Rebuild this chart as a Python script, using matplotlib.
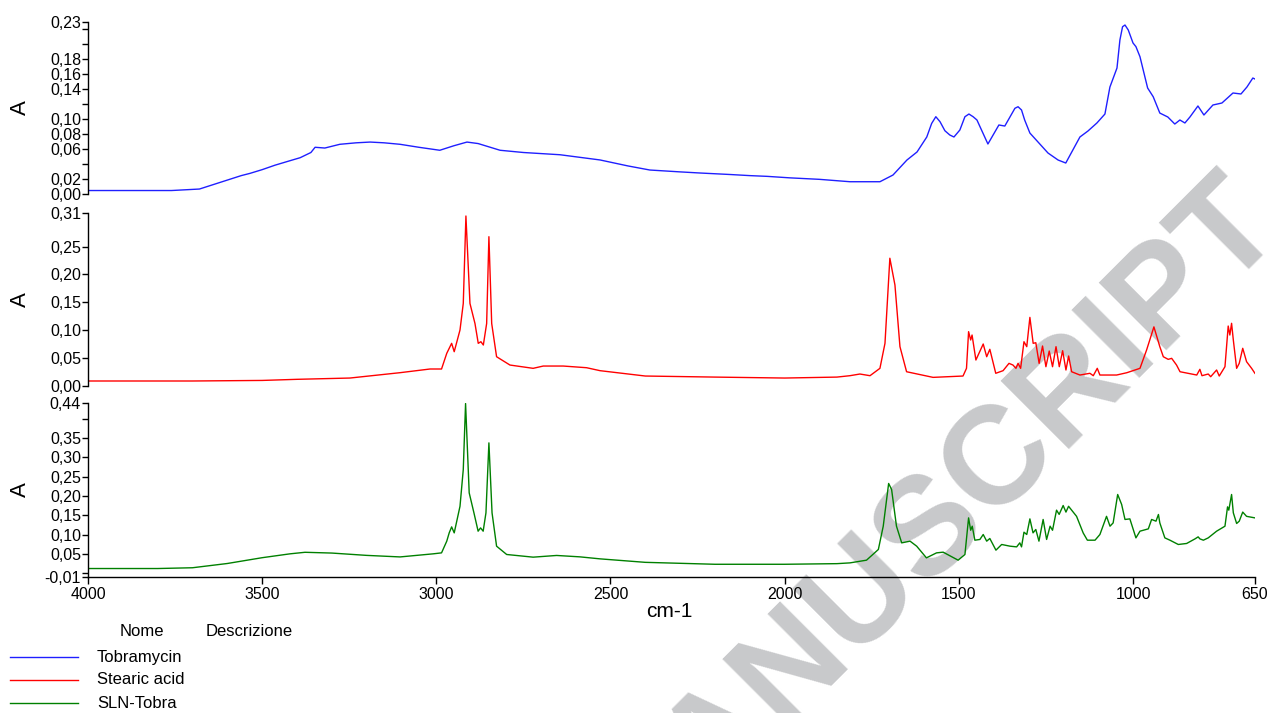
import matplotlib
matplotlib.use("Agg")
from matplotlib import pyplot as plt
from matplotlib.lines import Line2D

plt.rcParams['font.family'] = ['Liberation Sans', 'DejaVu Sans']

# Tobramycin spectrum (cm-1, absorbance)
tobra_wn = [4000, 3850, 3760, 3720, 3680, 3620, 3560, 3535, 3500, 3463, 3420, 3391, 3360, 3348,
	3320, 3277, 3230, 3190, 3150, 3104, 3050, 2990, 2950, 2912, 2880, 2817, 2750, 2645, 2530,
	2450, 2387, 2300, 2243, 2157, 2100, 2050, 1985, 1900, 1812.6, 1726.5, 1689, 1649, 1620, 1592,
	1578, 1566, 1554, 1540, 1526, 1514, 1497, 1482.5, 1471, 1459, 1448, 1416.5, 1385, 1368, 1339, 1330,
	1320, 1311, 1296, 1244, 1215, 1193, 1152.4, 1129.4, 1103.6, 1080.6, 1066.3, 1046, 1037.6, 1030,
	1023, 1013.6, 1000, 991.6, 980, 966, 958, 942, 923, 900, 880, 865.4, 851, 836.6,
	813.6, 796.4, 770.6, 744.7, 713, 690, 673, 656, 650]
tobra_a = [0.004, 0.004, 0.004, 0.005, 0.006, 0.015, 0.024, 0.027, 0.032, 0.038, 0.044, 0.048, 0.055, 0.062,
	0.061, 0.066, 0.068, 0.069, 0.068, 0.066, 0.062, 0.058, 0.064, 0.069, 0.067, 0.058, 0.055, 0.052, 0.045,
	0.037, 0.0315, 0.029, 0.0275, 0.0255, 0.024, 0.023, 0.021, 0.019, 0.0158, 0.0158, 0.0248, 0.0449, 0.0557, 0.0758,
	0.094, 0.103, 0.0963, 0.0842, 0.0785, 0.0758, 0.0852, 0.103, 0.1066, 0.103, 0.0986, 0.0664, 0.0919, 0.0905, 0.1143, 0.1164,
	0.112, 0.0986, 0.0811, 0.0543, 0.0449, 0.0409, 0.0758, 0.0838, 0.0946, 0.1066, 0.1428, 0.1683, 0.2059, 0.2237,
	0.226, 0.2193, 0.2019, 0.197, 0.1835, 0.1567, 0.1415, 0.1298, 0.1079, 0.1026, 0.0932, 0.0986, 0.0946, 0.1026,
	0.1174, 0.1053, 0.1187, 0.1214, 0.1348, 0.1335, 0.1428, 0.1549, 0.1536]

# Stearic acid spectrum
stearic_wn = [4000, 3700, 3500, 3400, 3248, 3104, 3018, 2985, 2970, 2956, 2948.6, 2932, 2922.6, 2915,
	2903.4, 2889, 2879.6, 2872, 2865, 2855.5, 2849, 2841, 2827, 2788.6, 2722, 2693, 2635.6, 2568.6, 2530,
	2400, 2200, 2000, 1850, 1812.6, 1784, 1755, 1726.5, 1712, 1698, 1683.4, 1669, 1650, 1574, 1488,
	1478, 1472, 1466, 1462, 1451, 1430, 1420, 1411, 1394, 1373, 1356, 1344.6, 1336, 1330, 1322.6,
	1313, 1305, 1296, 1286.6, 1279, 1269.5, 1259.7, 1250, 1240.5, 1231, 1221, 1211.6, 1202, 1192.5,
	1184.8, 1176.2, 1152.4, 1123.7, 1114, 1102.6, 1095, 1047, 1018, 980, 961, 940, 923, 913, 899,
	889, 875, 865, 817, 808, 802, 784, 777, 760, 752.4, 736, 726.7, 722, 717, 712, 702.5, 695,
	685, 674, 659.5, 650]
stearic_a = [0.009, 0.009, 0.010, 0.012, 0.0143, 0.0239, 0.0305, 0.0305, 0.0586, 0.0765, 0.0615, 0.1004, 0.148, 0.3047,
	0.148, 0.112, 0.0765, 0.0794, 0.0735, 0.112, 0.2676, 0.112, 0.0525, 0.0376, 0.0317, 0.0358, 0.0358, 0.0328, 0.0275,
	0.0179, 0.016, 0.0143, 0.016, 0.0185, 0.0215, 0.0185, 0.0317, 0.0765, 0.229, 0.181, 0.0705, 0.0256, 0.0155, 0.0179,
	0.0317, 0.0974, 0.0825, 0.0914, 0.0466, 0.0753, 0.0525, 0.0658, 0.0228, 0.0275, 0.0406, 0.0376, 0.0317, 0.0406, 0.0317,
	0.0794, 0.0705, 0.123, 0.0765, 0.0776, 0.0406, 0.0717, 0.0346, 0.0627, 0.0346, 0.0705, 0.0346, 0.0633, 0.0287,
	0.0538, 0.0256, 0.0197, 0.0228, 0.0185, 0.0317, 0.0197, 0.0197, 0.0238, 0.0317, 0.0645, 0.106, 0.0705, 0.0525, 0.0478,
	0.0496, 0.0376, 0.0256, 0.0197, 0.0299, 0.0185, 0.0215, 0.0167, 0.0287, 0.0179, 0.0346, 0.1075, 0.0914, 0.1124, 0.0824, 0.0317, 0.0407,
	0.0676, 0.0436, 0.0317, 0.0228]

# SLN-Tobra spectrum
sln_wn = [4000, 3800, 3700, 3600, 3500, 3420, 3377, 3300, 3200, 3104, 3009, 2985, 2970, 2963, 2956,
	2948.6, 2932, 2922.6, 2916, 2905.6, 2892, 2880, 2873, 2865.5, 2857.5, 2849, 2840, 2827, 2798, 2722,
	2654.6, 2588, 2530, 2400, 2200, 2000, 1850, 1812.6, 1765, 1731, 1717, 1701.5, 1693, 1679, 1664,
	1640, 1621, 1593, 1564, 1545, 1502, 1482.5, 1472, 1466, 1461.5, 1454, 1439.5, 1430, 1420, 1411,
	1393.5, 1377, 1353, 1334, 1325, 1320, 1313, 1305, 1296, 1287, 1279, 1270, 1258, 1248, 1238, 1231,
	1219.5, 1212, 1200.5, 1192.5, 1185, 1162, 1143, 1131, 1109, 1095, 1076, 1066, 1057, 1044, 1032.6,
	1023, 1009, 991.6, 980, 956, 946.6, 934, 927, 923, 908.6, 894, 870, 846, 822, 813, 808, 798,
	784, 760, 736, 728.6, 725, 717, 712, 702.5, 695, 685, 674, 650]
sln_a = [0.012, 0.012, 0.014, 0.025, 0.040, 0.050, 0.054, 0.052, 0.046, 0.042, 0.050, 0.0525, 0.0828, 0.1042, 0.1197,
	0.1042, 0.173, 0.268, 0.4388, 0.2077, 0.156, 0.1086, 0.1171, 0.1086, 0.156, 0.337, 0.156, 0.0698, 0.0483, 0.0414,
	0.0458, 0.0422, 0.037, 0.028, 0.023, 0.023, 0.0246, 0.0266, 0.0336, 0.0613, 0.1215, 0.232, 0.2165, 0.1215, 0.0784,
	0.0828, 0.0698, 0.0396, 0.0525, 0.0543, 0.0336, 0.0483, 0.143, 0.111, 0.1215, 0.0853, 0.0872, 0.100, 0.0828, 0.0897,
	0.0595, 0.0742, 0.0698, 0.068, 0.0784, 0.068, 0.106, 0.100, 0.1404, 0.1042, 0.113, 0.0828, 0.1389, 0.0872, 0.1215, 0.111,
	0.163, 0.152, 0.175, 0.158, 0.173, 0.147, 0.104, 0.0853, 0.0853, 0.100, 0.147, 0.1215, 0.130, 0.2035, 0.1777,
	0.1389, 0.1404, 0.0913, 0.1086, 0.1146, 0.1389, 0.1345, 0.1518, 0.130, 0.0913, 0.0853, 0.0742, 0.0768, 0.0887, 0.0939, 0.0887, 0.0853,
	0.0913, 0.1086, 0.1215, 0.1715, 0.163, 0.2035, 0.156, 0.1285, 0.1345, 0.158, 0.147, 0.143]

names = ["Tobramycin", "Stearic acid", "SLN-Tobra"]
colors = ["#1f1fff", "#ff0000", "#008000"]

x_ticks = [4000, 3500, 3000, 2500, 2000, 1500, 1000, 650]

top_ticks = [0.00, 0.02, 0.04, 0.06, 0.08, 0.10, 0.12, 0.14, 0.16, 0.18, 0.20, 0.22, 0.23]
top_labels = ["0,00", "0,02", "", "0,06", "0,08", "0,10", "", "0,14", "0,16", "0,18", "", "", "0,23"]
mid_ticks = [0.00, 0.05, 0.10, 0.15, 0.20, 0.25, 0.31]
mid_labels = ["0,00", "0,05", "0,10", "0,15", "0,20", "0,25", "0,31"]
bot_ticks = [-0.01, 0.00, 0.05, 0.10, 0.15, 0.20, 0.25, 0.30, 0.35, 0.40, 0.44]
bot_labels = ["-0,01", "", "0,05", "0,10", "0,15", "0,20", "0,25", "0,30", "0,35", "", "0,44"]

fig = plt.figure(figsize=(12.73, 7.13), dpi=100)

# panel boxes in figure fractions: left, bottom, width, height
boxes = [
	[0.0691, 0.7286, 0.9167, 0.2405],
	[0.0691, 0.4586, 0.9167, 0.2426],
	[0.0691, 0.1907, 0.9167, 0.2440],
]
series = [(tobra_wn, tobra_a), (stearic_wn, stearic_a), (sln_wn, sln_a)]
limits = [(0.0, 0.23), (0.0, 0.31), (-0.01, 0.44)]
yticks = [(top_ticks, top_labels), (mid_ticks, mid_labels), (bot_ticks, bot_labels)]

for i in range(3):
	ax = fig.add_axes(boxes[i])
	ax.patch.set_visible(False)
	wn, a = series[i]
	ax.plot(wn, a, color=colors[i], lw=1.0)
	ax.set_xlim(4000, 650)
	ax.set_ylim(*limits[i])
	for side in ["top", "right"]:
		ax.spines[side].set_visible(False)
	ax.spines["left"].set_linewidth(1.0)
	ax.set_yticks(yticks[i][0])
	ax.set_yticklabels(yticks[i][1])
	ax.tick_params(axis="y", direction="out", length=4, width=1, labelsize=11.5, pad=1)
	if i < 2:
		ax.spines["bottom"].set_visible(False)
		ax.set_xticks([])
	else:
		ax.spines["bottom"].set_linewidth(1.0)
		ax.set_xticks(x_ticks)
		ax.set_xticklabels([str(t) for t in x_ticks])
		ax.tick_params(axis="x", direction="out", length=5, width=1, labelsize=11.5, pad=2)
	# axis title "A", centred on each panel
	cy = boxes[i][1] + boxes[i][3] / 2
	fig.text(0.0157, cy, "A", rotation=90, ha="center", va="center", fontsize=16)

fig.text(0.5255, 0.1417, "cm-1", ha="center", va="center", fontsize=15)

# legend table below the plot
fig.text(0.1112, 0.115, "Nome", ha="center", va="center", fontsize=12)
fig.text(0.196, 0.115, "Descrizione", ha="center", va="center", fontsize=12)
leg_y = [0.0785, 0.0463, 0.014]
for i in range(3):
	fig.add_artist(Line2D([0.0079, 0.0613], [leg_y[i], leg_y[i]], color=colors[i], lw=1.0))
	fig.text(0.0762, leg_y[i], names[i], ha="left", va="center", fontsize=12)

# grey diagonal watermark behind everything
fig.text(1.010, 0.676, "ACCEPTED MANUSCRIPT", rotation=45, rotation_mode="anchor",
	ha="right", va="baseline", fontsize=100, fontweight="bold", color="#c8c9cb", zorder=-1)

fig.savefig("out.png", dpi=100)
